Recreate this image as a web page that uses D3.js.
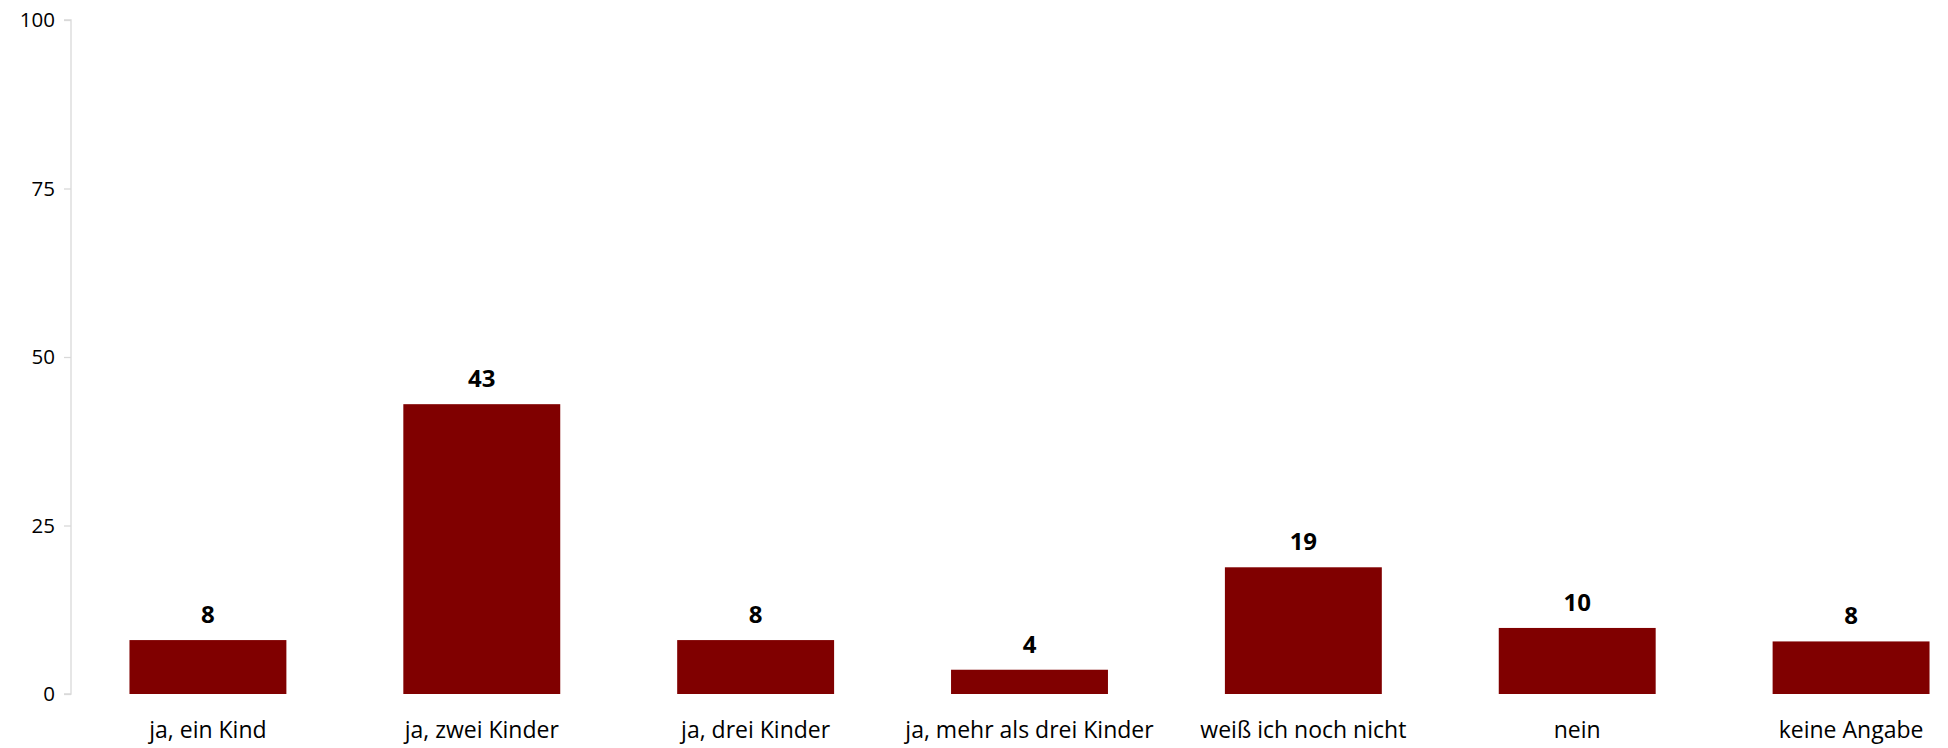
<!DOCTYPE html>
<html>
<head>
<meta charset="utf-8">
<script src="https://cdn.jsdelivr.net/npm/d3@7"></script>
<style>
  body { margin: 0; background: #fff; }
  text { font-family: "Open Sans", "Liberation Sans", sans-serif; }
</style>
</head>
<body>
<div id="chart"></div>
<script>
var categories = ["ja, ein Kind", "ja, zwei Kinder", "ja, drei Kinder", "ja, mehr als drei Kinder", "weiß ich noch nicht", "nein", "keine Angabe"];
var values = [8.0, 43.0, 8.0, 3.6, 18.8, 9.8, 7.8];
var yTicks = [0, 25, 50, 75, 100];

var width = 1948, height = 748;
var margin = { top: 20, left: 71, right: -40, bottom: 54 };

var svg = d3.select("#chart")
  .append("svg")
  .attr("width", width)
  .attr("height", height);

var x = d3.scaleBand()
  .domain(categories)
  .range([margin.left, width - margin.right])
  .paddingInner(0.427)
  .paddingOuter(0.2135);

var y = d3.scaleLinear()
  .domain([0, 100])
  .range([height - margin.bottom, margin.top]);

// y axis
var yAxis = svg.append("g")
  .attr("transform", "translate(" + margin.left + ",0)")
  .call(d3.axisLeft(y).tickValues(yTicks).tickSize(7).tickPadding(9));

yAxis.select(".domain").attr("stroke", "#d9d9d9").attr("stroke-width", 1.3)
  .attr("d", "M-7," + y(100) + "H0V" + y(0) + "H-7");
yAxis.selectAll(".tick line").attr("stroke", "#d9d9d9").attr("stroke-width", 1.3);
yAxis.selectAll(".tick text")
  .attr("fill", "#000")
  .style("font-size", "20.5px")
  .style("font-family", "'Open Sans', sans-serif");

// bars
svg.selectAll(".bar")
  .data(values)
  .enter().append("rect")
  .attr("class", "bar")
  .attr("x", function(d, i) { return x(categories[i]); })
  .attr("y", function(d) { return y(d); })
  .attr("width", x.bandwidth())
  .attr("height", function(d) { return y(0) - y(d); })
  .attr("fill", "#800000");

// value labels
svg.selectAll(".label")
  .data(values)
  .enter().append("text")
  .attr("class", "label")
  .attr("x", function(d, i) { return x(categories[i]) + x.bandwidth() / 2; })
  .attr("y", function(d) { return y(d) - 17; })
  .attr("text-anchor", "middle")
  .style("font-size", "24px")
  .style("font-weight", "bold")
  .text(function(d) { return Math.round(d); });

// category labels
svg.selectAll(".cat")
  .data(categories)
  .enter().append("text")
  .attr("class", "cat")
  .attr("x", function(d) { return x(d) + x.bandwidth() / 2; })
  .attr("y", y(0) + 44)
  .attr("text-anchor", "middle")
  .style("font-size", "23px")
  .text(function(d) { return d; });
</script>
</body>
</html>
